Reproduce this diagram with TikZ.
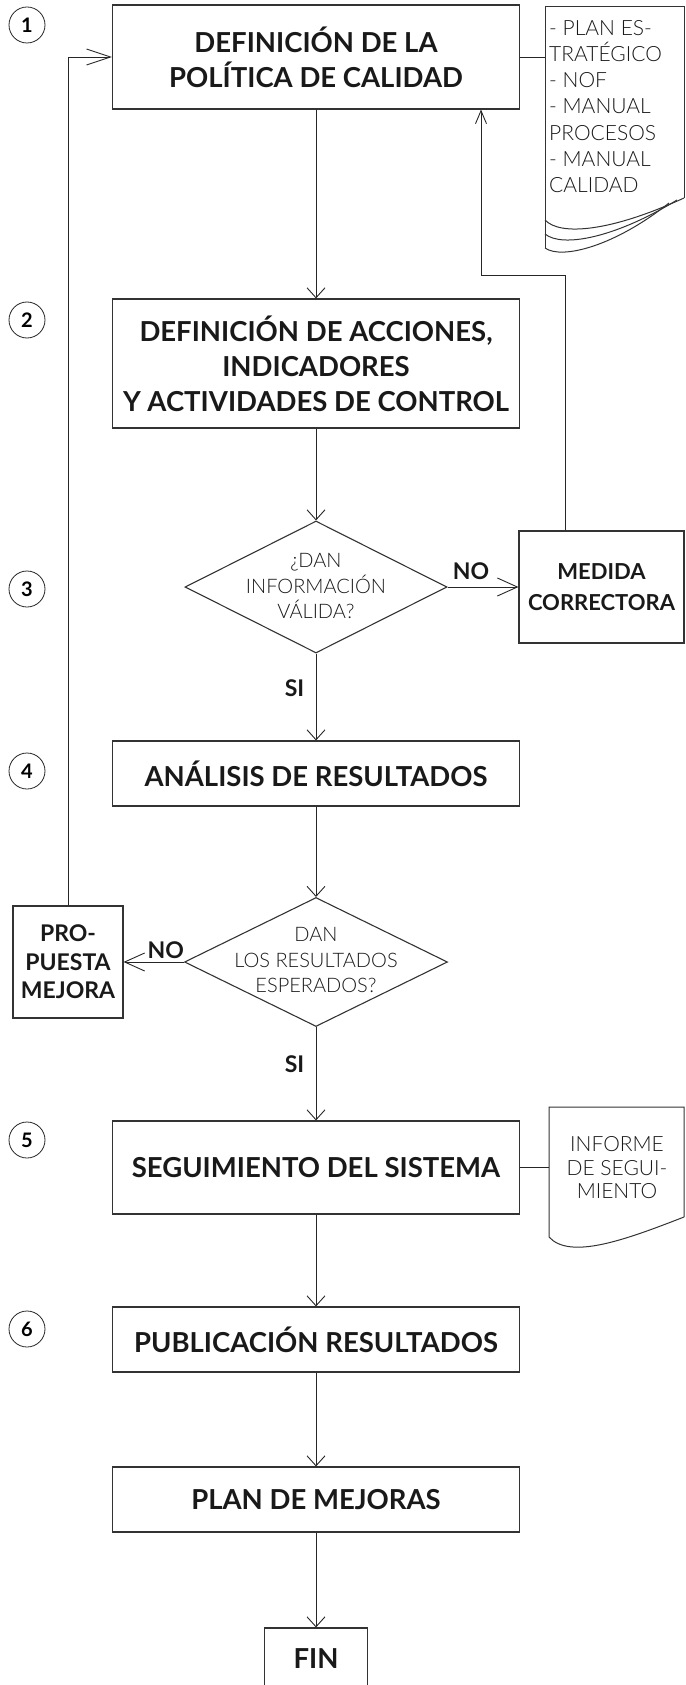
\documentclass[tikz,border=0pt]{standalone}
\usepackage{fontspec}
\setmainfont{Lato}
\newfontfamily\ligera{Lato Light}
\usetikzlibrary{shapes.geometric,arrows.meta}
\tikzset{
    % cajas del proceso
    caja/.style = {draw=black!80, line width=1.1pt, inner sep=0pt, align=center, text=black!90,
        font=\bfseries\fontsize{27.5}{35}\selectfont},
    % rombos de decision
    decision/.style = {diamond, draw=black!80, line width=1.1pt, inner sep=0pt},
    pregunta/.style = {align=center, text=black!90, inner sep=0pt, font=\ligera\fontsize{20}{25.5}\selectfont},
    % numeros de paso
    paso/.style = {circle, draw=black!85, line width=0.8pt, minimum size=36pt, inner sep=0pt,
        font=\bfseries\fontsize{20}{20}\selectfont},
    % etiquetas SI / NO
    respuesta/.style = {text=black!90, font=\bfseries\fontsize{23}{23}\selectfont},
    % documentos
    documento/.style = {draw=black!80, line width=1pt},
    nota/.style = {text=black!90, inner sep=0pt, font=\ligera\fontsize{21}{26.2}\selectfont},
    % conectores
    linea/.style = {draw=black!85, line width=0.9pt},
    flecha/.style = {linea, -{Straight Barb[length=10pt, width=18pt]}},
    flecha lateral/.style = {linea, -{Straight Barb[length=20pt, width=18pt]}},
    flecha entrada/.style = {linea, -{Straight Barb[length=24pt, width=16pt]}},
    flecha subida/.style = {linea, -{Straight Barb[length=13pt, width=11pt]}}
}

\begin{document}
\begin{tikzpicture}[x=1pt, y=-1pt]
    \useasboundingbox (0,0) rectangle (685,1685);
    % numeros de paso
    \node[paso] (n1) at (27,25) {1};
    \node[paso] (n2) at (27,320) {2};
    \node[paso] (n3) at (27,589) {3};
    \node[paso] (n4) at (27,771) {4};
    \node[paso] (n5) at (27,1140) {5};
    \node[paso] (n6) at (27,1329) {6};

    % cajas y rombos
    \node[caja, minimum width=407pt, minimum height=104pt] (politica) at (316,57) {DEFINICIÓN DE LA\\POLÍTICA DE CALIDAD};
    \node[caja, minimum width=407pt, minimum height=129pt] (acciones) at (316,363.5) {DEFINICIÓN DE ACCIONES,\\INDICADORES\\Y ACTIVIDADES DE CONTROL};
    \node[decision, minimum width=262pt, minimum height=132pt] (valida) at (316,587) {};
    \node[pregunta] (valida texto) at (316,586) {¿DAN\\INFORMACIÓN\\VÁLIDA?};
    \node[caja, minimum width=165pt, minimum height=112pt, font=\bfseries\fontsize{22}{31}\selectfont] (medida) at (601.5,587) {MEDIDA\\CORRECTORA};
    \node[caja, minimum width=407pt, minimum height=65pt] (analisis) at (316,773.5) {ANÁLISIS DE RESULTADOS};
    \node[decision, minimum width=263pt, minimum height=129pt] (esperados) at (316,962) {};
    \node[pregunta] (esperados texto) at (316,960) {DAN\\LOS RESULTADOS\\ESPERADOS?};
    \node[caja, minimum width=110pt, minimum height=112pt, font=\bfseries\fontsize{23}{28.5}\selectfont] (propuesta) at (68,962) {PRO-\\PUESTA\\MEJORA};
    \node[caja, minimum width=407pt, minimum height=93pt] (seguimiento) at (316,1167.5) {SEGUIMIENTO DEL SISTEMA};
    \node[caja, minimum width=407pt, minimum height=65pt] (publicacion) at (316,1339.5) {PUBLICACIÓN RESULTADOS};
    \node[caja, minimum width=407pt, minimum height=65pt] (mejoras) at (316,1499.5) {PLAN DE MEJORAS};
    \node[caja, minimum width=103pt, minimum height=62pt] (fin) at (316,1659) {FIN};

    % documento del plan estrategico
    \draw[documento] (684,198) -- (684,7) -- (545,7) -- (545,248);
    \draw[documento] (545,220) .. controls (560,236) and (610,232) .. (684,198);
    \draw[documento] (545,234) .. controls (562,248) and (615,238) .. (677,200);
    \draw[documento] (545,248) .. controls (562,260) and (615,246) .. (669,203);
    \node[nota, anchor=north west, align=left] (plan) at (549,20) {- PLAN ES-\\TRATÉGICO\\- NOF\\- MANUAL\\PROCESOS\\- MANUAL\\CALIDAD};
    \coordinate (docA) at (545,57);

    % documento del informe
    \draw[documento] (684,1217) -- (684,1107) -- (549,1107) -- (549,1237)
        .. controls (570,1260) and (625,1240) .. (684,1217);
    \node[nota, align=center, font=\ligera\fontsize{21}{23.5}\selectfont] (informe) at (617,1168) {INFORME\\DE SEGUI-\\MIENTO};
    \coordinate (docB) at (549,1167.5);

    % conectores
    \draw[linea] (politica.east) -- (docA);
    \draw[linea] (seguimiento.east) -- (docB);
    \draw[flecha] (politica) -- (acciones);
    \draw[flecha] (acciones) -- (valida);
    \draw[flecha lateral] (valida.east) -- node[respuesta, pos=0.33, above=4pt] (no1) {NO} (medida.west);
    \draw[flecha] (valida) -- node[respuesta, pos=0.4, left=8pt] (si1) {SI} (analisis);
    \draw[flecha] (analisis) -- (esperados);
    \draw[flecha lateral] (esperados.west) -- node[respuesta, pos=0.3, above] (no2) {NO} (propuesta.east);
    \draw[flecha] (esperados) -- node[respuesta, pos=0.4, left=8pt] (si2) {SI} (seguimiento);
    \draw[flecha] (seguimiento) -- (publicacion);
    \draw[flecha] (publicacion) -- (mejoras);
    \draw[flecha] (mejoras) -- (fin);

    % bucles de vuelta
    \coordinate (vueltaA) at (565,275);
    \coordinate (vueltaB) at (481,275);
    \draw[flecha subida] (medida.north -| vueltaA) -- (vueltaA) -- (vueltaB) -- (vueltaB |- politica.south);
    \coordinate (vueltaC) at (68,57);
    \draw[flecha entrada] (propuesta.north) -- (vueltaC) -- (politica.west);
\end{tikzpicture}
\end{document}
